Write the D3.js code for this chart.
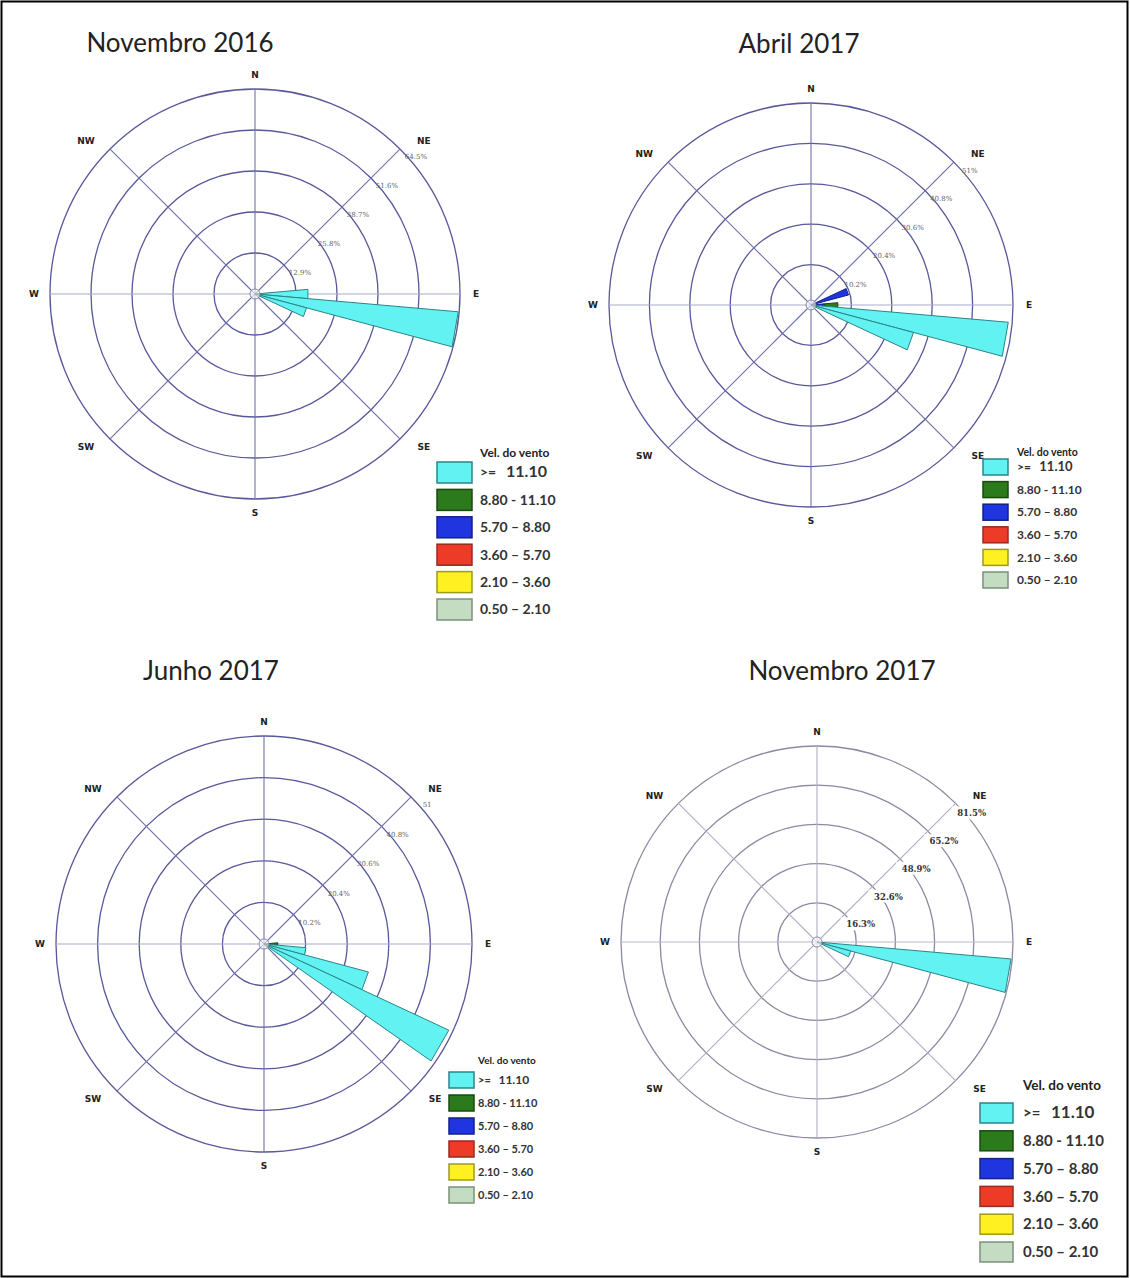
<!DOCTYPE html>
<html>
<head>
<meta charset="utf-8">
<script src="https://cdn.jsdelivr.net/npm/d3@7"></script>
<style>
  body { margin: 0; background: #fff; }
  svg { display: block; }
</style>
</head>
<body>
<svg id="chart" width="1130" height="1278"></svg>
<script>
// ---- data ----
// speed classes, inner (slowest) to outer (fastest)
const speedLabels = ["0.50 – 2.10", "2.10 – 3.60", "3.60 – 5.70", "5.70 – 8.80", "8.80 - 11.10", ">= 11.10"];
const compass = ["N", "NE", "E", "SE", "S", "SW", "W", "NW"];

// Novembro 2016
const nov16Rings = [12.9, 25.8, 38.7, 51.6, 64.5];
const nov16RingLabels = ["12.9%", "25.8%", "38.7%", "51.6%", "64.5%"];
const nov16Dirs = [90, 100, 110];
const nov16Pct = [
  [0, 0, 0, 0.3, 0.6, 15.8],
  [0, 0, 0, 0.5, 1.0, 62.7],
  [0, 0, 0, 0.3, 0.6, 15.9]
];

// Abril 2017
const apr17Rings = [10.2, 20.4, 30.6, 40.8, 51];
const apr17RingLabels = ["10.2%", "20.4%", "30.6%", "40.8%", "51%"];
const apr17Dirs = [70, 90, 100, 110];
const apr17Pct = [
  [0, 0, 0, 9.8, 0, 0],
  [0, 0, 0, 3.5, 3.3, 0],
  [0, 0, 0, 0.6, 1.0, 48.4],
  [0, 0, 0, 0.4, 0.8, 25.6]
];

// Junho 2017
const jun17Rings = [10.2, 20.4, 30.6, 40.8, 51];
const jun17RingLabels = ["10.2%", "20.4%", "30.6%", "40.8%", "51"];
const jun17Dirs = [90, 100, 110, 120];
const jun17Pct = [
  [0, 0, 0, 1.0, 2.4, 0],
  [0, 0, 0, 0.4, 0.8, 9.1],
  [0, 0, 0, 0.4, 0.8, 25.3],
  [0, 0, 0, 0.4, 0.8, 48.8]
];

// Novembro 2017
const nov17Rings = [16.3, 32.6, 48.9, 65.2, 81.5];
const nov17RingLabels = ["16.3%", "32.6%", "48.9%", "65.2%", "81.5%"];
const nov17Dirs = [100, 110];
const nov17Pct = [
  [0, 0, 0, 0.6, 1.4, 79.0],
  [0, 0, 0, 0.4, 0.8, 13.3]
];

// ---- styles ----
const fills = ["#c4dcc2", "#fff022", "#ee3b28", "#1f35e0", "#2b7a1c", "#62f2f2"];
const strokes = ["#7c907a", "#9c9a20", "#9a2a20", "#15208a", "#1a4a12", "#2a8588"];

const panels = [
  { title: "Novembro 2016", tx: 180, ty: 52, cx: 255, cy: 294, R: 205,
    rings: nov16Rings, ringLabels: nov16RingLabels, dirs: nov16Dirs, pct: nov16Pct,
    grid: "#58589a", spoke: "#7070aa", axis: "#a9a9cf", ringFont: 7, boxed: false,
    leg: { sx: 437, sw: 35, sh: 21, top: 462, step: 27.4, tx: 480, font: 14, big: 16, titleY: 457, titleFont: 12 } },
  { title: "Abril 2017", tx: 799, ty: 53, cx: 811, cy: 305, R: 202,
    rings: apr17Rings, ringLabels: apr17RingLabels, dirs: apr17Dirs, pct: apr17Pct,
    grid: "#58589a", spoke: "#7070aa", axis: "#a9a9cf", ringFont: 7, boxed: false,
    leg: { sx: 983, sw: 25, sh: 16, top: 459, step: 22.6, tx: 1017, font: 12, big: 13, titleY: 456, titleFont: 10.5 } },
  { title: "Junho 2017", tx: 211, ty: 680, cx: 264, cy: 944, R: 208,
    rings: jun17Rings, ringLabels: jun17RingLabels, dirs: jun17Dirs, pct: jun17Pct,
    grid: "#58589a", spoke: "#7070aa", axis: "#a9a9cf", ringFont: 7, boxed: false,
    leg: { sx: 449, sw: 25, sh: 16, top: 1072, step: 23, tx: 478, font: 11, big: 12, titleY: 1064, titleFont: 10 } },
  { title: "Novembro 2017", tx: 842, ty: 680, cx: 817, cy: 942, R: 196,
    rings: nov17Rings, ringLabels: nov17RingLabels, dirs: nov17Dirs, pct: nov17Pct,
    grid: "#8a8aa4", spoke: "#b0b0c4", axis: "#b8b8c8", ringFont: 8.5, boxed: true,
    leg: { sx: 980, sw: 33, sh: 20, top: 1103, step: 27.8, tx: 1023, font: 15, big: 17, titleY: 1089, titleFont: 13.5 } }
];

const svg = d3.select("#chart");
svg.append("rect").attr("x", 1.5).attr("y", 1.5).attr("width", 1126).attr("height", 1275)
  .attr("fill", "#fff").attr("stroke", "#000").attr("stroke-width", 2);

const rad = d => d * Math.PI / 180;

panels.forEach(p => {
  const g = svg.append("g");
  const r = d3.scaleLinear().domain([0, d3.max(p.rings)]).range([0, p.R]);
  const pt = (v, a) => [p.cx + r(v) * Math.sin(rad(a)), p.cy - r(v) * Math.cos(rad(a))];

  g.append("text").attr("x", p.tx).attr("y", p.ty).attr("text-anchor", "middle")
    .attr("font-family", "Lato, 'Open Sans', sans-serif").attr("font-size", 26).attr("fill", "#222")
    .text(p.title);

  // rings
  g.selectAll("circle.ring").data(p.rings).join("circle")
    .attr("cx", p.cx).attr("cy", p.cy).attr("r", d => r(d))
    .attr("fill", "none").attr("stroke", p.grid).attr("stroke-width", 1.3);

  // spokes
  g.selectAll("line.spoke").data(d3.range(0, 360, 45)).join("line")
    .attr("x1", p.cx).attr("y1", p.cy)
    .attr("x2", d => pt(d3.max(p.rings), d)[0]).attr("y2", d => pt(d3.max(p.rings), d)[1])
    .attr("stroke", d => d === 90 || d === 270 ? p.axis : p.spoke).attr("stroke-width", 1.1);

  // ring labels along NE spoke
  const rl = g.selectAll("g.rl").data(p.rings).join("g")
    .attr("transform", d => {
      const [x, y] = pt(d, 45);
      return `translate(${x + 16},${y + (p.boxed ? 10 : 8)})`;
    });
  if (p.boxed) {
    rl.append("rect").attr("x", -20).attr("y", -7).attr("width", 38).attr("height", 13).attr("fill", "#fff");
  }
  rl.append("text").attr("text-anchor", "middle").attr("dy", "0.35em")
    .attr("font-family", "'DejaVu Serif', serif").attr("font-size", p.ringFont)
    .attr("font-weight", p.boxed ? "bold" : "normal")
    .attr("fill", p.boxed ? "#333" : "#666").text((d, i) => p.ringLabels[i]);

  // petals: stacked segments, 10 degree wide
  p.dirs.forEach((dir, i) => {
    const cum = d3.cumsum(p.pct[i]);
    p.pct[i].forEach((v, k) => {
      if (v <= 0) return;
      const r0 = k === 0 ? 0 : cum[k - 1], r1 = cum[k];
      const pts = [pt(r0, dir - 5), pt(r1, dir - 5), pt(r1, dir + 5), pt(r0, dir + 5)];
      g.append("polygon").attr("points", pts.map(q => q.join(",")).join(" "))
        .attr("fill", fills[k]).attr("stroke", strokes[k]).attr("stroke-width", 1)
        .attr("stroke-linejoin", "round");
    });
  });

  // calm circle
  g.append("circle").attr("cx", p.cx).attr("cy", p.cy).attr("r", 5)
    .attr("fill", "#fff").attr("fill-opacity", 0.6).attr("stroke", "#8888a8").attr("stroke-width", 1);

  // compass labels
  g.selectAll("text.dir").data(compass).join("text")
    .attr("x", (d, i) => {
      const a = i * 45;
      if (a % 90 === 0) return p.cx + (p.R + 16) * Math.sin(rad(a));
      return p.cx + Math.sign(Math.sin(rad(a))) * (p.R * 0.707 + 24);
    })
    .attr("y", (d, i) => {
      const a = i * 45;
      if (a % 90 === 0) return p.cy - (p.R + 14) * Math.cos(rad(a));
      return p.cy - Math.sign(Math.cos(rad(a))) * (p.R * 0.707 + 8);
    })
    .attr("text-anchor", "middle").attr("dy", "0.35em")
    .attr("font-family", "'DejaVu Sans', sans-serif").attr("font-weight", "bold")
    .attr("font-size", 9).attr("fill", "#222").text(d => d);

  // legend
  const L = p.leg;
  g.append("text").attr("x", L.tx).attr("y", L.titleY - 4).attr("dy", "0.35em")
    .attr("font-family", "Lato, sans-serif").attr("font-weight", "bold")
    .attr("font-size", L.titleFont).attr("fill", "#222").text("Vel. do vento");
  const order = d3.range(speedLabels.length).reverse();
  const row = g.selectAll("g.leg").data(order).join("g")
    .attr("transform", (d, j) => `translate(0,${L.top + j * L.step})`);
  row.append("rect").attr("x", L.sx).attr("y", 0).attr("width", L.sw).attr("height", L.sh)
    .attr("fill", d => fills[d]).attr("stroke", d => strokes[d]).attr("stroke-width", 1.5);
  row.append("text").attr("x", L.tx).attr("y", L.sh / 2).attr("dy", "0.35em")
    .attr("font-family", "Lato, sans-serif").attr("font-weight", "bold")
    .attr("font-size", L.font).attr("fill", "#333")
    .each(function (d) {
      const t = d3.select(this);
      if (d === speedLabels.length - 1) {
        t.append("tspan").text(">=");
        t.append("tspan").attr("dx", L.font * 0.7).attr("font-size", L.big).text("11.10");
      } else {
        t.text(speedLabels[d]);
      }
    });
});
</script>
</body>
</html>
